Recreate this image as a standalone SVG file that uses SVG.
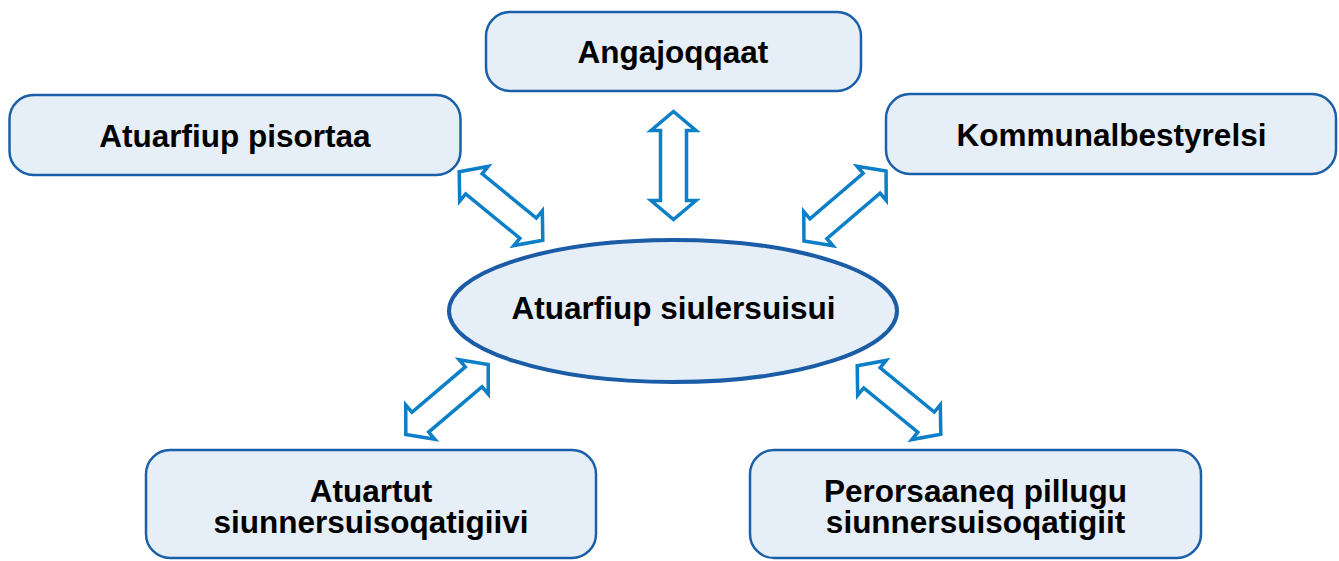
<svg xmlns="http://www.w3.org/2000/svg" width="1339" height="561" viewBox="0 0 1339 561">
  <defs>
    <style>
      .box { fill: #e6eef7; stroke: #1b5fa8; stroke-width: 2.5; }
      .ell { fill: #e6eef7; stroke: #1b5ca6; stroke-width: 4; }
      .lbl { font-family: "Liberation Sans", Arial, sans-serif; font-weight: bold; font-size: 31.5px; fill: #000; text-anchor: middle; }
      .arr { fill: #ffffff; stroke: #0b7fc7; stroke-width: 3.5; stroke-linejoin: miter; }
    </style>
    <path id="dblarrow" d="M -54 0 L -35 -22.5 L -35 -13 L 35 -13 L 35 -22.5 L 54 0 L 35 22.5 L 35 13 L -35 13 L -35 22.5 Z"/>
  </defs>
  <rect width="1339" height="561" fill="#ffffff"/>

  <g id="connectors">
    <use href="#dblarrow" class="arr" transform="translate(673.5,165.5) rotate(90)"/>
    <use href="#dblarrow" class="arr" transform="translate(501,206) rotate(39.3)"/>
    <use href="#dblarrow" class="arr" transform="translate(845,206) rotate(-40.5)"/>
    <use href="#dblarrow" class="arr" transform="translate(447,399.5) rotate(-40.3)"/>
    <use href="#dblarrow" class="arr" transform="translate(899,400) rotate(39.3)"/>
  </g>

  <g id="node-center">
    <ellipse class="ell" cx="673" cy="311" rx="224" ry="71"/>
    <text class="lbl" x="673.5" y="319">Atuarfiup siulersuisui</text>
  </g>

  <g id="node-angajoqqaat">
    <rect class="box" x="486" y="12" width="375" height="79" rx="24" ry="24"/>
    <text class="lbl" x="673" y="63">Angajoqqaat</text>
  </g>

  <g id="node-pisortaa">
    <rect class="box" x="9.5" y="95" width="451" height="80" rx="24" ry="24"/>
    <text class="lbl" x="235" y="147">Atuarfiup pisortaa</text>
  </g>

  <g id="node-kommunal">
    <rect class="box" x="886" y="94" width="450" height="80" rx="24" ry="24"/>
    <text class="lbl" x="1111.5" y="146">Kommunalbestyrelsi</text>
  </g>

  <g id="node-atuartut">
    <rect class="box" x="146" y="450" width="450" height="108" rx="24" ry="24"/>
    <text class="lbl" x="371" y="502">Atuartut</text>
    <text class="lbl" x="371" y="533">siunnersuisoqatigiivi</text>
  </g>

  <g id="node-perorsaaneq">
    <rect class="box" x="750" y="450" width="451" height="108" rx="24" ry="24"/>
    <text class="lbl" x="975.5" y="502">Perorsaaneq pillugu</text>
    <text class="lbl" x="975.5" y="533">siunnersuisoqatigiit</text>
  </g>
</svg>
